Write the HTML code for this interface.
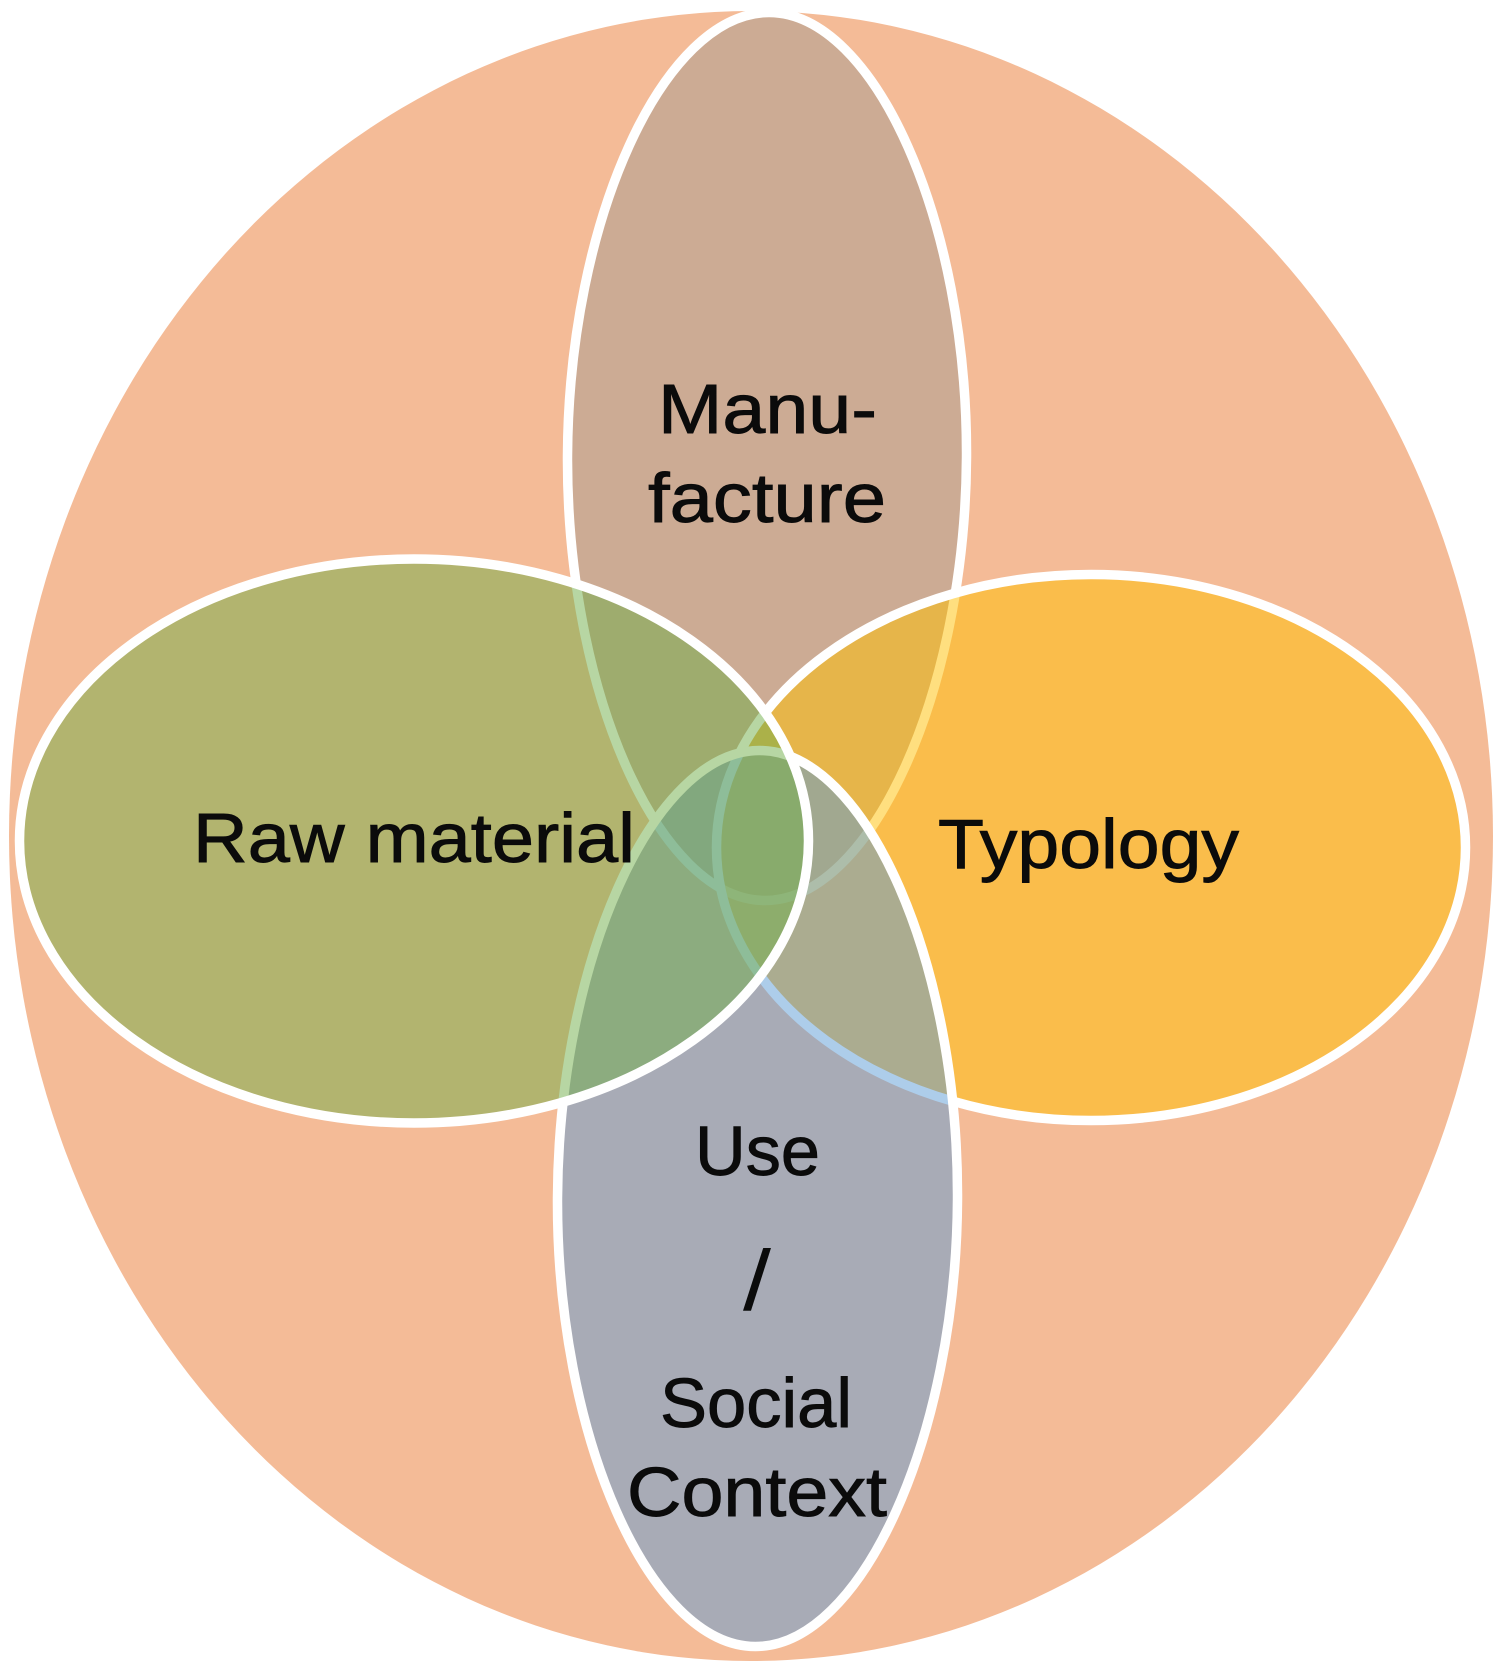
<!DOCTYPE html>
<html lang="en">
<head>
<meta charset="utf-8">
<title>Venn diagram</title>
<style>
html,body{margin:0;padding:0;background:#fff;width:1500px;height:1668px;overflow:hidden}
svg{display:block}
text{font-family:"Liberation Sans",sans-serif;font-size:70px;fill:#0b0b0b;stroke:#0b0b0b;stroke-width:.9px}
</style>
</head>
<body>
<svg width="1500" height="1668" viewBox="0 0 1500 1668" xmlns="http://www.w3.org/2000/svg">
<rect width="1500" height="1668" fill="#fff"/>
<ellipse cx="751" cy="836" rx="742" ry="825" fill="#F4BB97"/>
<g stroke="#fff" stroke-width="9.5">
<path transform="translate(767 456.5) rotate(.3)" d="M199.5 0C199.5 235.3 105.7 444 0 444C-105.7 444 -199.5 235.3 -199.5 0C-199.5 -235.3 -105.7 -444 0 -444C105.7 -444 199.5 -235.3 199.5 0Z" fill="#A49B91" fill-opacity="0.5"/>
<ellipse cx="1091" cy="847.5" rx="374.5" ry="273" fill="#FFC000" fill-opacity="0.5"/>
<path transform="translate(757.5 1198.5) rotate(.3)" d="M200 0C200 237.4 106 448 0 448C-106 448 -200 237.4 -200 0C-200 -237.4 -106 -448 0 -448C106 -448 200 -237.4 200 0Z" fill="#5B9BD5" fill-opacity="0.5"/>
<ellipse cx="414" cy="841" rx="394.5" ry="282" fill="#70AD47" fill-opacity="0.5"/>
</g>
<text x="658" y="433" textLength="219" lengthAdjust="spacingAndGlyphs">Manu-</text>
<text x="648" y="522" textLength="238" lengthAdjust="spacingAndGlyphs">facture</text>
<text x="193" y="862" textLength="442" lengthAdjust="spacingAndGlyphs">Raw material</text>
<text x="938" y="868" textLength="301" lengthAdjust="spacingAndGlyphs">Typology</text>
<text x="695" y="1175" textLength="125" lengthAdjust="spacingAndGlyphs">Use</text>
<text x="743" y="1310" textLength="28" lengthAdjust="spacingAndGlyphs" style="font-size:85px;stroke-width:0">/</text>
<text x="660" y="1427" textLength="192" lengthAdjust="spacingAndGlyphs">Social</text>
<text x="627" y="1516" textLength="260" lengthAdjust="spacingAndGlyphs">Context</text>
</svg>
</body>
</html>
